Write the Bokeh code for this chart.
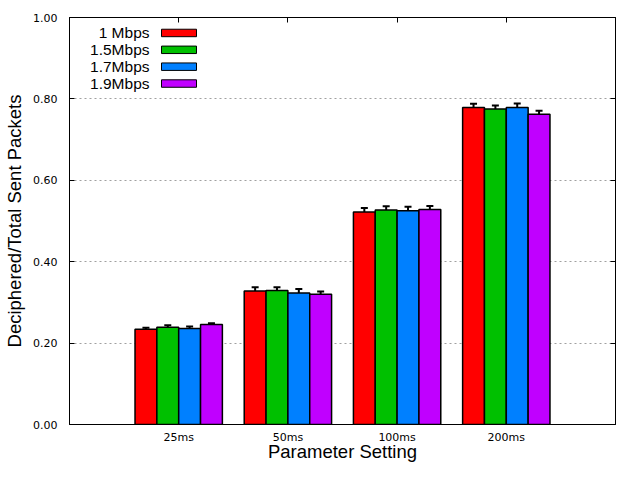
from bokeh.plotting import figure
from bokeh.models import (Range1d, FixedTicker, PrintfTickFormatter, LinearAxis,
                          ColumnDataSource, Whisker, TeeHead, Label, BoxAnnotation)
from bokeh.embed import file_html
from bokeh.resources import INLINE

# ---- data ----
groups = ["25ms", "50ms", "100ms", "200ms"]
series = ["1 Mbps", "1.5Mbps", "1.7Mbps", "1.9Mbps"]
colors = ["#ff0000", "#00c000", "#0080ff", "#c000ff"]
values = {
    "1 Mbps":  [0.234, 0.328, 0.522, 0.779],
    "1.5Mbps": [0.239, 0.329, 0.527, 0.775],
    "1.7Mbps": [0.236, 0.323, 0.525, 0.779],
    "1.9Mbps": [0.246, 0.320, 0.528, 0.762],
}
errors = {
    "1 Mbps":  [0.004, 0.009, 0.010, 0.009],
    "1.5Mbps": [0.005, 0.008, 0.009, 0.009],
    "1.7Mbps": [0.005, 0.010, 0.010, 0.010],
    "1.9Mbps": [0.003, 0.007, 0.009, 0.009],
}
y_ticks = [0.0, 0.2, 0.4, 0.6, 0.8, 1.0]
x_title = "Parameter Setting"
y_title = "Deciphered/Total Sent Packets"

# ---- layout ----
W, H = 624, 464
ML, MR, MT, MB = 69, 9, 17, 39
frame_w = W - ML - MR
frame_h = H - MT - MB
X0, X1, Y0, Y1 = 0.0, 5.0, 0.0, 1.0

p = figure(width=W, height=H, output_backend="svg", toolbar_location=None,
           x_range=Range1d(X0, X1), y_range=Range1d(Y0, Y1),
           min_border_left=ML, min_border_right=MR, min_border_top=MT,
           min_border_bottom=MB)
p.outline_line_color = "black"
p.outline_line_width = 1
p.background_fill_color = "white"
p.border_fill_color = "white"

def px2x(px):
    return X0 + px / frame_w * (X1 - X0)

def px2y(py):
    return Y1 - py / frame_h * (Y1 - Y0)

n = len(series)
bw = 0.2
for i, s in enumerate(series):
    off = (i - (n - 1) / 2) * bw
    xs = [g + 1 + off for g in range(len(groups))]
    vals = values[s]
    errs = errors[s]
    src = ColumnDataSource(dict(x=xs, top=vals,
                                upper=[v + e for v, e in zip(vals, errs)],
                                lower=[v - e for v, e in zip(vals, errs)]))
    p.vbar(x="x", top="top", width=bw, source=src, fill_color=colors[i],
           line_color="black", line_width=1.5)
    w = Whisker(base="x", upper="upper", lower="lower", source=src,
                line_color="black", line_width=2,
                upper_head=TeeHead(size=7, line_width=2, line_color="black"),
                lower_head=TeeHead(size=7, line_width=2, line_color="black"))
    p.add_layout(w)

# ---- axes ----
tick_font = "DejaVu Sans"
p.xaxis.ticker = FixedTicker(ticks=[g + 1 for g in range(len(groups))])
p.xaxis.major_label_overrides = {g + 1: name for g, name in enumerate(groups)}
p.xaxis.major_tick_in = 0
p.xaxis.major_tick_out = 0
p.xaxis.minor_tick_in = 0
p.xaxis.minor_tick_out = 0
p.xaxis.major_label_standoff = 6
p.xaxis.axis_label = x_title
p.xaxis.axis_label_standoff = -6

p.yaxis.ticker = FixedTicker(ticks=y_ticks)
p.yaxis.formatter = PrintfTickFormatter(format="%.2f")
p.yaxis.major_tick_in = 5
p.yaxis.major_tick_out = 0
p.yaxis.minor_tick_in = 0
p.yaxis.minor_tick_out = 0
p.yaxis.major_label_standoff = 12
p.yaxis.axis_label = y_title
p.yaxis.axis_label_standoff = 5

for ax in [p.xaxis[0], p.yaxis[0]]:
    ax.axis_line_color = "black"
    ax.axis_line_width = 1
    ax.major_tick_line_color = "black"
    ax.major_label_text_font = tick_font
    ax.major_label_text_font_size = "11px"
    ax.major_label_text_color = "black"
    ax.axis_label_text_font = "Liberation Sans"
    ax.axis_label_text_font_size = "18.5px"
    ax.axis_label_text_font_style = "normal"
    ax.axis_label_text_color = "black"

right = LinearAxis(ticker=FixedTicker(ticks=y_ticks), major_label_text_font_size="0px",
                   major_tick_in=5, major_tick_out=0, minor_tick_in=0, minor_tick_out=0,
                   major_label_standoff=0, axis_line_color="black")
right.major_label_overrides = {t: "" for t in y_ticks}
p.add_layout(right, "right")
top = LinearAxis(ticker=FixedTicker(ticks=[g + 1 for g in range(len(groups))]),
                 major_label_text_font_size="0px",
                 major_tick_in=5, major_tick_out=0, minor_tick_in=0, minor_tick_out=0,
                 major_label_standoff=0, axis_line_color="black")
top.major_label_overrides = {g + 1: "" for g in range(len(groups))}
p.add_layout(top, "above")

p.xgrid.grid_line_color = None
p.ygrid.ticker = FixedTicker(ticks=y_ticks[1:-1])
p.ygrid.grid_line_color = "#a0a0a0"
p.ygrid.grid_line_dash = "2 3"
p.ygrid.grid_line_width = 1

# ---- legend (gnuplot style: label, then swatch) ----
label_right_px = 80
sw_left_px, sw_right_px = 92, 127
row0_px, row_step_px, sw_h_px = 15.5, 16.9, 7.5
for i, s in enumerate(series):
    cy = row0_px + i * row_step_px
    p.add_layout(Label(x=px2x(label_right_px), y=px2y(cy), text=s,
                       text_align="right", text_baseline="middle",
                       text_font="Liberation Sans", text_font_size="15.5px",
                       text_color="black"))
    p.add_layout(BoxAnnotation(left=px2x(sw_left_px), right=px2x(sw_right_px),
                               top=px2y(cy - sw_h_px / 2), bottom=px2y(cy + sw_h_px / 2),
                               fill_color=colors[i], fill_alpha=1.0,
                               line_color="black", line_width=1, line_alpha=1.0))

open("out.html", "w").write(file_html(p, INLINE))
